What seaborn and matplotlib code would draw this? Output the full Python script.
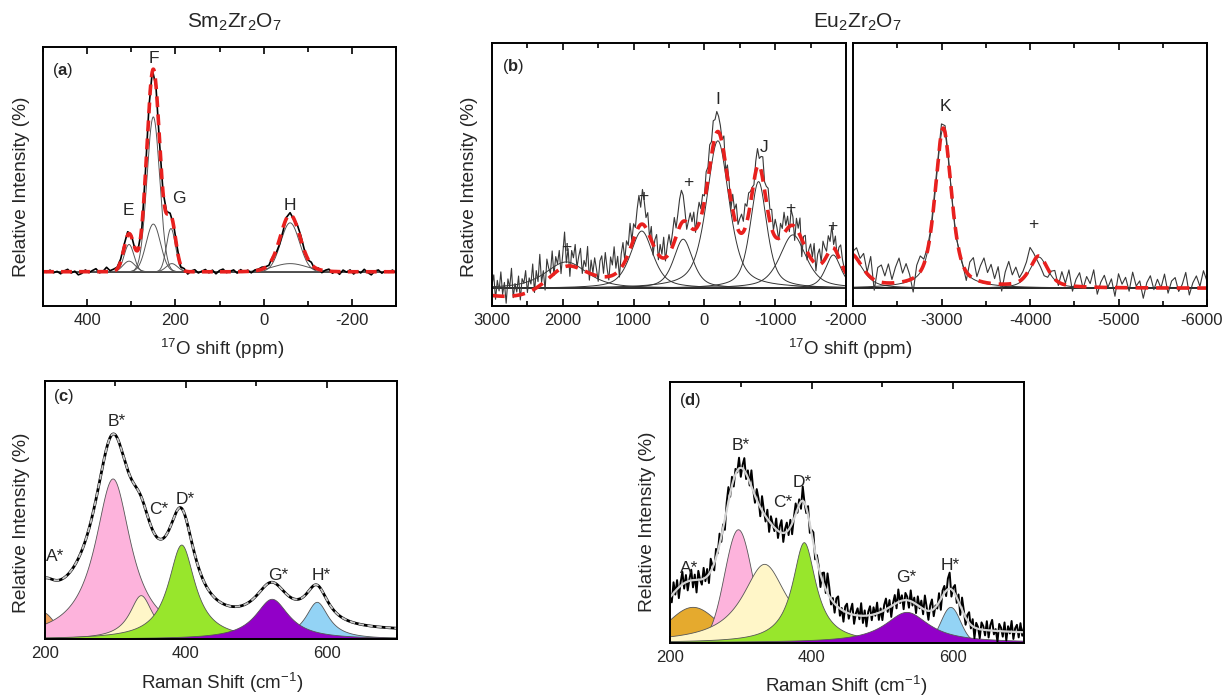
import numpy as np
import pandas as pd
import matplotlib
matplotlib.use("Agg")
import matplotlib.pyplot as plt
from matplotlib.transforms import ScaledTranslation
import seaborn as sns

# ---------------- data ----------------
# (a) Sm2Zr2O7 17O NMR: gaussian components (center ppm, height, HWHM)
a_centers = [305, 305, 250, 250, 210, 208, -60, -60]
a_heights = [13.4, 5.2, 76.0, 23.4, 21.2, 4.0, 24.0, 4.0]
a_widths = [13, 16, 17, 19, 12, 15, 25, 45]
a_resid = [0.5, -0.3, 0.8, -0.5, 0.2, -1.0, 0.4, 1.2, -0.6, 0.3, -1.5, -0.8, 0.9, -0.4, 0.6, 1.5, -0.5, 0.2, 2.2, 0.5, 1.0,
           0.8, 1.2, 1.5, 1.6, 0.8, -0.5,
           0.5, -1.0, 0.8, 1.5, 0.5, -0.8, -1.2, 0.6, 1.0, 0.3,
           0.5, 1.2, -0.8, 0.9, -1.2, 0.4, 1.0, -0.6, 0.3, 1.1, -0.5, 0.8, -1.0, 0.6, 1.3, -0.4, 0.2, 0.9, -0.7, 1.0, -0.3, 0.6, -0.8, 0.4,
           0.5, 1.0, 0.3, -0.5, 0.8, -1.5, -2.5, -1.8, 0.5, 1.0, -0.5, 1.5, 2.0, 0.5, -0.5, 1.0,
           -0.8, 0.6, -1.2, 0.3, 1.0, -0.9, 0.4, -1.3, 0.8, -0.2, 0.9, -1.1, 0.5, -0.6, 1.2, -0.4, -1.5, 0.3, 0.9, -0.7, 0.5, -0.3, 0.8, -0.5]
a_labels = ["E", "F", "G", "H"]
a_label_x = [307, 249, 192, -59]
a_label_y = [29.9, 104.6, 36.0, 32.7]

# (b) Eu2Zr2O7 17O NMR, 3000 .. -2000 ppm: pseudo-Voigt components
b_centers = [1950, 885, 300, -190, -765, -1250, -1820]
b_heights = [15.2, 33.0, 28.3, 85.0, 61.5, 30.8, 19.2]
b_widths = [350, 190, 160, 190, 140, 220, 130]
b_baseline = [2600, -7.0, 700]          # broad baseline term of the fit
b_resid = [6, 12, -2, 9, 3, 14, 1, 8, -4, 10, 5, 16, -1, 7, 2, 11, -3, 9, 6, 13,
           0, 8, 4, 15, -2, 10, 3, 18, 1, 7, -5, 12, 6, 2, 14, -1, 9, 4, 11, -3,
           8, 20, 2, 10, -6, 9, 5, 13, 0, 7, 12, -2, 6, 3, 15, -4, 8, 1, 10, 4,
           -3, 9, 12, 2, 14, 5, -2, 11, 6, 16, 3, 9, -4, 8, 13, 1, 10, 5, 15, 2,
           9, 4, 12, 18, 10, 20, 14, 6, 11, -1, 8, -6, 5, 10, -3, 7, 2, 12, -2, 6,
           11, 3, 8, 14, 5, 10, 16, 19, 15, 6, -4, 2, 8, 4, 10, -2, 7, 12, 5, 9,
           3, 11, 7, 13, 8, 14, 10, 12, 9, 6, 2, 10, -3, 7, 4, -5, 9, 5, 12, 3,
           8, 11, 6, 14, 9, 12, 7, 3, -2, 6, 10, 4, 8, 13, 5, 9, 14, 7, 11, 2,
           10, 6, -1, 8, 4, 12, 3, 7, -3, 9, 5, -8, 6, 2, 10, -10, 4, 7, -5, 3,
           8, 2, 11, -4, 6, 9, 1, 12, 7, 3, 10, 5, 13, 2, 8, -2, 6, 10, 4, 1, 5]
b_labels = ["+", "+", "+", "I", "J", "+", "+"]
b_label_x = [1950, 858, 222, -187, -837, -1214, -1802]
b_label_y = [23.5, 52.9, 61.0, 109.0, 81.0, 46.0, 35.6]

# (b) right part, -2000 .. -6000 ppm
b2_centers = [-1980, -3020, -4100]
b2_heights = [19.0, 92.0, 18.0]
b2_widths = [150, 110, 120]
b2_resid = [2, 6, 3, 9, 1, 12, -6, 8, 10, 4, 11, 2, 9, 14, 5, 10, 3, -8, 6, 9,
            3, 2, 1, 3, 2, 5, 4, 2, -1, -3, 1, 0,
            -5, 8, 12, 2, 9, 14, 6, 11, 3, 10, -4, 7, 13, 5, 9, 2,
            4, 7, 12, 5, -2, -6, -8, -5, 2,
            5, -2, 7, 1, 9, -3, 4, 8, -1, 6, 2, 10, -4, 3, 7, 0, 5, -5, 8, 2, 6, -2,
            9, 1, 4, -6, 3, 7, -1, 5, 0, 8, -3, 4, 6, -2, 2, 9, -4, 3, 7, 1, 10, 4]
b2_labels = ["K", "+"]
b2_label_x = [-3042, -4034]
b2_label_y = [105.0, 36.9]

# (c) Sm2Zr2O7 Raman: lorentzian components (A*,B*,C*,D*,H*,G*)
c_centers = [198, 296, 336, 393.6, 586, 522]
c_heights = [13.0, 79.5, 21.6, 46.7, 18.3, 19.8]
c_widths = [20, 31, 20, 23, 20, 29]
c_colors = ["#F0A35E", "#FDB3DC", "#FFF6C8", "#98E62C", "#93D3F5", "#9200C8"]
c_background = [3.3, 290, 11.0, 85]      # constant, center, height, HWHM
c_labels = ["A*", "B*", "C*", "D*", "G*", "H*"]
c_label_x = [214, 302, 361, 399, 532, 592]
c_label_y = [40.6, 108.0, 64.0, 69.0, 31.5, 31.5]

# (d) Eu2Zr2O7 Raman: pseudo-Voigt components (A*,B*,C*,D*,H*,G*)
d_centers = [232, 296, 333, 389, 596, 534]
d_heights = [19.7, 63.0, 43.7, 55.8, 19.7, 16.9]
d_widths = [40, 23, 38, 20, 16, 38]
d_etas = [0.0, 0.0, 1.0, 1.0, 0.0, 1.0]
d_colors = ["#E5AA2E", "#FDB3DC", "#FFF6C8", "#98E62C", "#93D3F5", "#9200C8"]
d_background = [4.0, 215, 5.0, 30, 355, 9.0, 30]
d_resid = [3, -4, 6, -2, 5, -6, 2, 7, -3, 4, -5, 1, 6, -4, 3, -7, 5, 0, -3, 6,
           -2, 4, -5, 7, 1, -4, 5, -1, 6, -3, 2, -6, 4, 8, -2, 5, -4, 3, -1, 6,
           -5, 2, 7, -3, 4, -2, 9, 1, -4, 6, 3, -5, 8, 2, -3, 5, -6, 4, 1, -2,
           6, -4, 3, 7, -5, 2, 5, -3, 4, -6, 1, 6, -2, 3, -4, 8, 0, -3, 5, -5,
           2, 6, -4, 3, 1, -7, 4, 7, -2, 11, 5, -3, 2, -5, 4, 6, -4, 1, -6, 3,
           5, -3, 2, 6, -5, 1, 4, -2, 7, -4, 3, -6, 2, 5, -3, 4, -1, 6, -4, 2,
           -5, 3, 6, -2, 4, -6, 1, 5, -3, 7, -1, 3, -5, 4, 2, -4, 6, -2, 3, -5,
           5, -1, 4, -3, 8, 2, -5, 3, 6, -4, 1, -2, 5, -6, 3, 4, -3, 6, 9, -4,
           2, 5, -3, 4, -5, 7, 2, -4, 3, 6, -2, 4, -6, 3, 1, -5, 4, 2, -3, 5,
           -4, 3, 6, -2, 1, -6, 4, 2, -3, 5, -5, 3, -1, 6, -4, 2, 4, -3, 5, -2, 3]
d_labels = ["A*", "B*", "C*", "D*", "G*", "H*"]
d_label_x = [227, 300, 359, 387, 534, 596]
d_label_y = [41.0, 110.0, 77.7, 89.0, 35.9, 43.0]


# ---------------- helpers ----------------
def pv(x, c, h, w, eta):
    d = (x - c) / w
    return h * (eta / (1 + d * d) + (1 - eta) * np.exp(-np.log(2) * d * d))


def line(ax, x, y, **kw):
    df = pd.DataFrame({"x": x, "y": y})
    sns.lineplot(data=df, x="x", y="y", ax=ax, sort=False, estimator=None,
                 legend=False, **kw)
    return ax.lines[-1]


def style(ax, xlim, ylim, majors, labels, minors):
    ax.set_xlim(*xlim)
    ax.set_ylim(*ylim)
    ax.set_xticks(majors)
    ax.set_xticklabels(labels)
    ax.set_xticks(minors, minor=True)
    ax.set_yticks([])
    ax.set_xlabel("")
    ax.set_ylabel("")
    ax.tick_params(axis="x", which="both", direction="in", top=True, bottom=True,
                   labelsize=12, pad=5, width=1.2, color="black")
    ax.tick_params(axis="x", which="major", length=5)
    ax.tick_params(axis="x", which="minor", length=3.5)
    for s in ax.spines.values():
        s.set_visible(True)
        s.set_linewidth(1.4)
        s.set_color("black")


def panel_tag(ax, x, y, letter):
    ax.text(x, y, r"($\mathbf{" + letter + r"}$)", transform=ax.transAxes,
            fontsize=12, ha="left", va="center")


sns.set_style("white")
plt.rcParams["font.family"] = ["Liberation Sans", "DejaVu Sans"]
plt.rcParams["mathtext.fontset"] = "custom"
plt.rcParams["mathtext.rm"] = "Liberation Sans"
plt.rcParams["mathtext.it"] = "Liberation Sans:italic"
plt.rcParams["mathtext.bf"] = "Liberation Sans:bold"

fig = plt.figure(figsize=(12.25, 6.97), dpi=100)
RED = "#E8201E"
PK = 12.5   # peak label size

# ---------------- (a) ----------------
axa = fig.add_axes([43 / 1225, 1 - 306 / 697, 353 / 1225, 259 / 697])
xf = np.linspace(500, -300, 1200)
xd = np.linspace(500, -300, len(a_resid))
fit_f = sum(pv(xf, c, h, w, 0.0) for c, h, w in zip(a_centers, a_heights, a_widths))
fit_d = sum(pv(xd, c, h, w, 0.0) for c, h, w in zip(a_centers, a_heights, a_widths))
axa.axhline(0, color="black", lw=1.1, zorder=1)
for c, h, w in zip(a_centers, a_heights, a_widths):
    line(axa, xf, pv(xf, c, h, w, 0.0), color="#555555", lw=0.7)
line(axa, xd, fit_d + np.array(a_resid), color="black", lw=1.2)
ln = line(axa, xf, fit_f, color=RED, lw=2.6)
ln.set_dashes((3, 2))
for t, x, y in zip(a_labels, a_label_x, a_label_y):
    axa.text(x, y, t, ha="center", va="center", fontsize=PK)
style(axa, (500, -300), (-16.8, 110.3), [400, 200, 0, -200],
      ["400", "200", "0", "-200"], [500, 300, 100, -100, -300])
panel_tag(axa, 0.026, 0.91, "a")

# ---------------- (b) ----------------
axb = fig.add_axes([492 / 1225, 1 - 306 / 697, 354 / 1225, 263 / 697])
xf = np.linspace(3000, -2000, 1500)
xd = np.linspace(3000, -2000, len(b_resid))


def b_fit(x):
    tot = sum(pv(x, c, h, w, 0.6) for c, h, w in zip(b_centers, b_heights, b_widths))
    return tot + pv(x, b_baseline[0], b_baseline[1], b_baseline[2], 0.0)


axb.axhline(0, color="black", lw=1.3, zorder=1)
for c, h, w in zip(b_centers, b_heights, b_widths):
    line(axb, xf, pv(xf, c, h, w, 0.6), color="#333333", lw=0.7)
line(axb, xd, b_fit(xd) + np.array(b_resid), color="#383838", lw=0.8)
ln = line(axb, xf, b_fit(xf), color=RED, lw=2.6)
ln.set_dashes((3.5, 2.2))
for t, x, y in zip(b_labels, b_label_x, b_label_y):
    axb.text(x, y, t, ha="center", va="center", fontsize=PK)
style(axb, (3000, -2000), (-10.2, 141.4), [3000, 2000, 1000, 0, -1000, -2000],
      ["3000", "2000", "1000", "0", "-1000", "-2000"],
      [2500, 1500, 500, -500, -1500])
panel_tag(axb, 0.028, 0.909, "b")

# ---------------- (b) right ----------------
axb2 = fig.add_axes([853 / 1225, 1 - 306 / 697, 354 / 1225, 263 / 697])
xf = np.linspace(-2000, -6000, 1200)
xd = np.linspace(-2000, -6000, len(b2_resid))


def b2_fit(x):
    return sum(pv(x, c, h, w, 0.6) for c, h, w in zip(b2_centers, b2_heights, b2_widths))


axb2.axhline(0, color="black", lw=1.3, zorder=1)
for c, h, w in zip(b2_centers, b2_heights, b2_widths):
    line(axb2, xf, pv(xf, c, h, w, 0.6), color="#333333", lw=0.7)
line(axb2, xd, b2_fit(xd) + np.array(b2_resid), color="#383838", lw=0.8)
ln = line(axb2, xf, b2_fit(xf), color=RED, lw=2.6)
ln.set_dashes((3.5, 2.2))
for t, x, y in zip(b2_labels, b2_label_x, b2_label_y):
    axb2.text(x, y, t, ha="center", va="center", fontsize=PK)
style(axb2, (-2000, -6000), (-10.2, 141.4), [-2000, -3000, -4000, -5000, -6000],
      ["", "-3000", "-4000", "-5000", "-6000"], [-2500, -3500, -4500, -5500])
last = axb2.get_xticklabels()[-1]
last.set_transform(last.get_transform() + ScaledTranslation(-4 / 72, 0, fig.dpi_scale_trans))

# ---------------- (c) ----------------
axc = fig.add_axes([45 / 1225, 1 - 639.3 / 697, 352 / 1225, 258.6 / 697])
xf = np.linspace(200, 700, 1000)
comps = [pv(xf, c, h, w, 1.0) for c, h, w in zip(c_centers, c_heights, c_widths)]
bg = c_background[0] + pv(xf, c_background[1], c_background[2], c_background[3], 0.0)
total = sum(comps) + bg
for comp, col in zip(comps, c_colors):
    axc.fill_between(xf, 0, comp, facecolor=col, edgecolor="#555555", lw=0.6)
line(axc, xf, total, color="black", lw=2.0)
ln = line(axc, xf, total, color="#C8C8C8", lw=1.3)
ln.set_dashes((3, 2))
for t, x, y in zip(c_labels, c_label_x, c_label_y):
    axc.text(x, y, t, ha="center", va="center", fontsize=PK)
style(axc, (200, 700), (-0.3, 128), [200, 400, 600], ["200", "400", "600"],
      [300, 500, 700])
panel_tag(axc, 0.023, 0.938, "c")

# ---------------- (d) ----------------
axd = fig.add_axes([670 / 1225, 1 - 642.7 / 697, 354 / 1225, 260.4 / 697])
xf = np.linspace(200, 700, 1000)
xd = np.linspace(200, 700, len(d_resid))


def d_fit(x):
    tot = sum(pv(x, c, h, w, e) for c, h, w, e in zip(d_centers, d_heights, d_widths, d_etas))
    tot = tot + d_background[0]
    tot = tot + pv(x, d_background[1], d_background[2], d_background[3], 0.0)
    tot = tot + pv(x, d_background[4], d_background[5], d_background[6], 0.0)
    return tot


comps = [pv(xf, c, h, w, e) for c, h, w, e in zip(d_centers, d_heights, d_widths, d_etas)]
for comp, col in zip(comps, d_colors):
    axd.fill_between(xf, 0, comp, facecolor=col, edgecolor="#555555", lw=0.6)
line(axd, xd, d_fit(xd) + np.array(d_resid), color="black", lw=1.4)
line(axd, xf, d_fit(xf), color="#D4D4D4", lw=1.6)
for t, x, y in zip(d_labels, d_label_x, d_label_y):
    axd.text(x, y, t, ha="center", va="center", fontsize=PK)
style(axd, (200, 700), (-0.3, 145), [200, 400, 600], ["200", "400", "600"],
      [300, 500, 700])
panel_tag(axd, 0.025, 0.931, "d")

# ---------------- figure texts ----------------
fig.text(234 / 1225, 1 - 22 / 697, r"Sm$_2$Zr$_2$O$_7$", ha="center", va="center", fontsize=15)
fig.text(857 / 1225, 1 - 22 / 697, r"Eu$_2$Zr$_2$O$_7$", ha="center", va="center", fontsize=15)
fig.text(222 / 1225, 1 - 349 / 697, r"$^{17}$O shift (ppm)", ha="center", va="center", fontsize=13.5)
fig.text(850 / 1225, 1 - 349 / 697, r"$^{17}$O shift (ppm)", ha="center", va="center", fontsize=13.5)
fig.text(222 / 1225, 1 - 683 / 697, r"Raman Shift (cm$^{-1}$)", ha="center", va="center", fontsize=13.5)
fig.text(846 / 1225, 1 - 686 / 697, r"Raman Shift (cm$^{-1}$)", ha="center", va="center", fontsize=13.5)
for xp, yp in [(22, 187), (470, 187), (22, 523), (647, 522)]:
    fig.text(xp / 1225, 1 - yp / 697, "Relative Intensity (%)", rotation=90,
             ha="center", va="center", fontsize=13.8)

fig.savefig("out.png", dpi=100)
